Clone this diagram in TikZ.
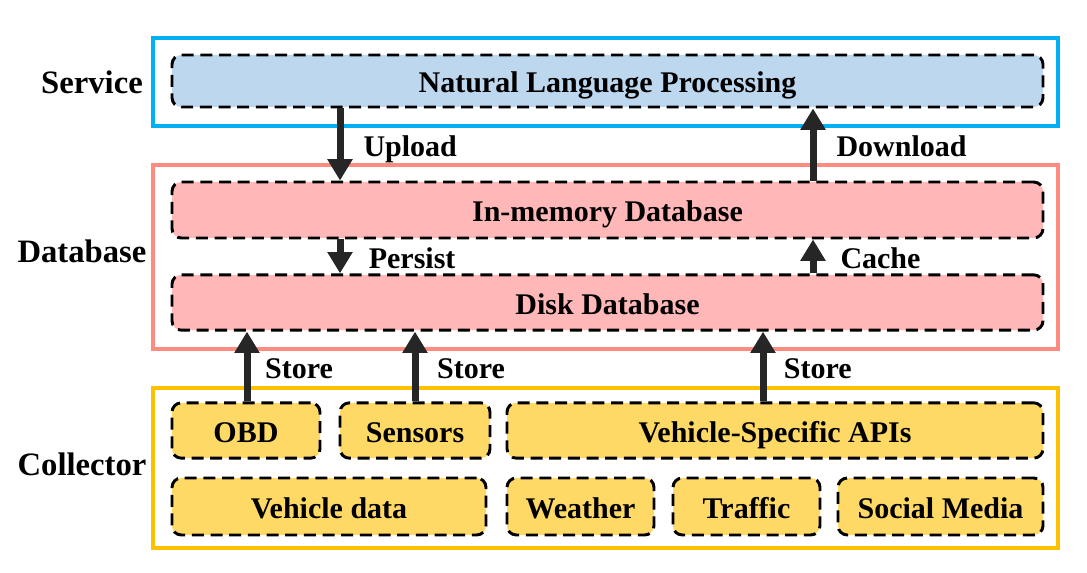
\documentclass[tikz,border=0pt]{standalone}
\usepackage{fontspec}
\setmainfont{Liberation Serif}
\usetikzlibrary{arrows.meta}
\definecolor{svcline}{HTML}{00B0F0}
\definecolor{svcfill}{HTML}{BDD7EE}
\definecolor{dbline}{HTML}{FF8A80}
\definecolor{dbfill}{HTML}{FFB7B7}
\definecolor{colline}{HTML}{FFC000}
\definecolor{colfill}{HTML}{FFD966}
\definecolor{arr}{HTML}{262626}
\tikzset{layer/.style = {rectangle, line width=3pt, inner sep=0pt, minimum width=678.75pt},
           blk/.style = {rectangle, rounded corners=7pt, draw=black, line width=2.2pt,
                         dash pattern=on 9pt off 5pt, inner sep=0pt, minimum height=41.5pt,
                         text height=18pt, text depth=0pt, font=\fontsize{22.5}{26}\selectfont\bfseries},
           tag/.style = {font=\fontsize{24.5}{28}\selectfont\bfseries},
           flow/.style = {draw=arr, line width=5.25pt, -{Triangle[width=18pt,length=16pt]}},
           lbl/.style = {inner sep=0pt, text depth=0pt, yshift=-1.5pt, font=\fontsize{22.5}{26}\selectfont\bfseries}}

\begin{document}
\begin{tikzpicture}[x=0.75pt, y=-0.75pt]
    \useasboundingbox (0,0) rectangle (1087,573);
    % layers
    \node[layer, draw=svcline, minimum height=66pt]  (service)   at (605.5,82)  {};
    \node[layer, draw=dbline,  minimum height=138pt] (database)  at (605.5,257) {};
    \node[layer, draw=colline, minimum height=120pt] (collector) at (605.5,468) {};
    \node[tag] (tsvc) at (92,82)  {Service};
    \node[tag] (tdb)  at (82,251) {Database};
    \node[tag] (tcol) at (82,464) {Collector};
    % service
    \node[blk, fill=svcfill, minimum width=653.25pt, minimum height=39pt] (nlp) at (607.5,81) {Natural Language Processing};
    % database
    \node[blk, fill=dbfill, minimum width=653.25pt, minimum height=42pt] (mem)  at (607.5,210)   {In-memory Database};
    \node[blk, fill=dbfill, minimum width=653.25pt] (disk) at (607.5,302.5) {Disk Database};
    % collector
    \node[blk, fill=colfill, minimum width=111pt]    (obd)     at (246,430.5) {OBD};
    \node[blk, fill=colfill, minimum width=112.5pt]  (sensors) at (415,430.5) {Sensors};
    \node[blk, fill=colfill, minimum width=402pt]    (apis)    at (775,430.5) {Vehicle-Specific APIs};
    \node[blk, fill=colfill, minimum width=235.5pt, minimum height=42.75pt] (vdata)   at (329,506.5)   {Vehicle data};
    \node[blk, fill=colfill, minimum width=110.25pt, minimum height=42.75pt] (weather) at (580.5,506.5) {Weather};
    \node[blk, fill=colfill, minimum width=110.25pt, minimum height=42.75pt] (traffic) at (746.5,506.5) {Traffic};
    \node[blk, fill=colfill, minimum width=153.75pt, minimum height=42.75pt] (social)  at (940.5,506.5) {Social Media};
    % arrow columns
    \coordinate (ax) at (340,0); \coordinate (bx) at (813,0);
    \coordinate (cx) at (247,0); \coordinate (dx) at (415,0); \coordinate (ex) at (763,0);
    \draw[flow] (nlp.south -| ax) -- (mem.north -| ax) node[lbl, midway, right=15pt] {Upload};
    \draw[flow] (mem.north -| bx) -- (nlp.south -| bx) node[lbl, midway, right=15pt] {Download};
    \draw[flow] (mem.south -| ax) -- (disk.north -| ax) node[lbl, midway, right=19pt] {Persist};
    \draw[flow] (disk.north -| bx) -- (mem.south -| bx) node[lbl, midway, right=18pt] {Cache};
    \draw[flow] (obd.north -| cx) -- (disk.south -| cx) node[lbl, midway, right=11pt] {Store};
    \draw[flow] (sensors.north -| dx) -- (disk.south -| dx) node[lbl, midway, right=14pt] {Store};
    \draw[flow] (apis.north -| ex) -- (disk.south -| ex) node[lbl, midway, right=13pt] {Store};
\end{tikzpicture}
\end{document}
